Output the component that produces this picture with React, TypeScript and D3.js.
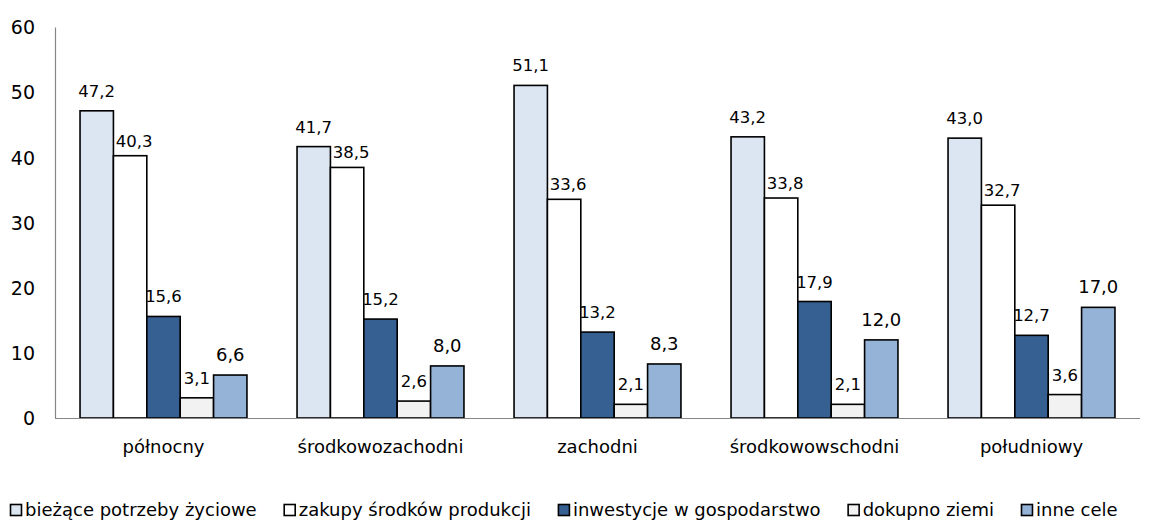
import React, { useEffect, useRef } from "react";
import * as d3 from "d3";

const regions = ["północny", "środkowozachodni", "zachodni", "środkowowschodni", "południowy"];
const seriesNames = [
  "bieżące potrzeby życiowe",
  "zakupy środków produkcji",
  "inwestycje w gospodarstwo",
  "dokupno ziemi",
  "inne cele",
];
const biezace = [47.2, 41.7, 51.1, 43.2, 43.0];
const zakupy = [40.3, 38.5, 33.6, 33.8, 32.7];
const inwestycje = [15.6, 15.2, 13.2, 17.9, 12.7];
const dokupno = [3.1, 2.6, 2.1, 2.1, 3.6];
const inne = [6.6, 8.0, 8.3, 12.0, 17.0];
const yTicks = [0, 10, 20, 30, 40, 50, 60];
const colors = ["#dce6f2", "#ffffff", "#376092", "#f2f2f2", "#95b3d7"];

const W = 1151;
const H = 521;
const FONT = "'DejaVu Sans', Verdana, sans-serif";

export default function App() {
  const ref = useRef<SVGSVGElement | null>(null);

  useEffect(() => {
    const svg = d3.select(ref.current);
    svg.selectAll("*").remove();
    const values = [biezace, zakupy, inwestycje, dokupno, inne];

    const x0 = d3.scaleBand<string>().domain(regions).range([55, 1140]).paddingInner(0).paddingOuter(0);
    const x1 = d3
      .scaleBand<string>()
      .domain(seriesNames)
      .range([0, x0.bandwidth()])
      .paddingInner(0)
      .paddingOuter(0.75);
    const y = d3.scaleLinear().domain([0, 60]).range([418, 27.5]);
    const fmt = (v: number) => d3.format(".1f")(v).replace(".", ",");

    // y tick labels
    svg
      .append("g")
      .selectAll("text")
      .data(yTicks)
      .join("text")
      .attr("x", 35)
      .attr("y", (d) => y(d))
      .attr("dy", "0.36em")
      .attr("text-anchor", "end")
      .attr("font-family", FONT)
      .attr("font-size", 19)
      .attr("fill", "#000")
      .text((d) => String(d));

    // bars
    seriesNames.forEach((s, si) => {
      const g = svg.append("g");
      g.selectAll("rect")
        .data(values[si])
        .join("rect")
        .attr("x", (_d, i) => (x0(regions[i]) as number) + (x1(s) as number))
        .attr("y", (d) => y(d))
        .attr("width", x1.bandwidth())
        .attr("height", (d) => y(0) - y(d))
        .attr("fill", colors[si])
        .attr("stroke", "#000")
        .attr("stroke-width", 1.6);
      g.selectAll("text")
        .data(values[si])
        .join("text")
        .attr(
          "x",
          (_d, i) => (x0(regions[i]) as number) + (x1(s) as number) + x1.bandwidth() / 2 + (si === 1 ? 4 : 0)
        )
        .attr("y", (d) => y(d) - (si === 1 ? 9 : 14))
        .attr("text-anchor", "middle")
        .attr("font-family", FONT)
        .attr("font-size", si === 4 ? 18 : 16.5)
        .attr("fill", "#000")
        .text((d) => fmt(d));
    });

    // axes lines
    svg
      .append("line")
      .attr("x1", 55.5)
      .attr("x2", 55.5)
      .attr("y1", y(60))
      .attr("y2", y(0))
      .attr("stroke", "#868686")
      .attr("stroke-width", 1.2);
    svg
      .append("line")
      .attr("x1", 55)
      .attr("x2", 1140)
      .attr("y1", y(0) + 0.5)
      .attr("y2", y(0) + 0.5)
      .attr("stroke", "#868686")
      .attr("stroke-width", 1.2);

    // category labels
    svg
      .append("g")
      .selectAll("text")
      .data(regions)
      .join("text")
      .attr("x", (d) => (x0(d) as number) + x0.bandwidth() / 2)
      .attr("y", 453)
      .attr("text-anchor", "middle")
      .attr("font-family", FONT)
      .attr("font-size", 18)
      .attr("fill", "#000")
      .text((d) => d);

    // legend
    const lg = svg.append("g");
    let cx = 10;
    const ly = 510;
    seriesNames.forEach((s, si) => {
      lg.append("rect")
        .attr("x", cx + 0.5)
        .attr("y", ly - 5.5)
        .attr("width", 11)
        .attr("height", 11)
        .attr("fill", colors[si])
        .attr("stroke", "#000")
        .attr("stroke-width", 1.6);
      const t = lg
        .append("text")
        .attr("x", cx + 15)
        .attr("y", ly)
        .attr("dy", "0.36em")
        .attr("font-family", FONT)
        .attr("font-size", 18)
        .attr("fill", "#000")
        .text(s);
      const w = (t.node() as SVGTextElement).getComputedTextLength();
      cx = cx + 15 + w + 27;
    });
  }, []);

  return (
    <div style={{ position: "absolute", left: 0, top: 0, width: W, height: H, background: "#fff" }}>
      <svg ref={ref} width={W} height={H} style={{ display: "block" }} />
    </div>
  );
}
